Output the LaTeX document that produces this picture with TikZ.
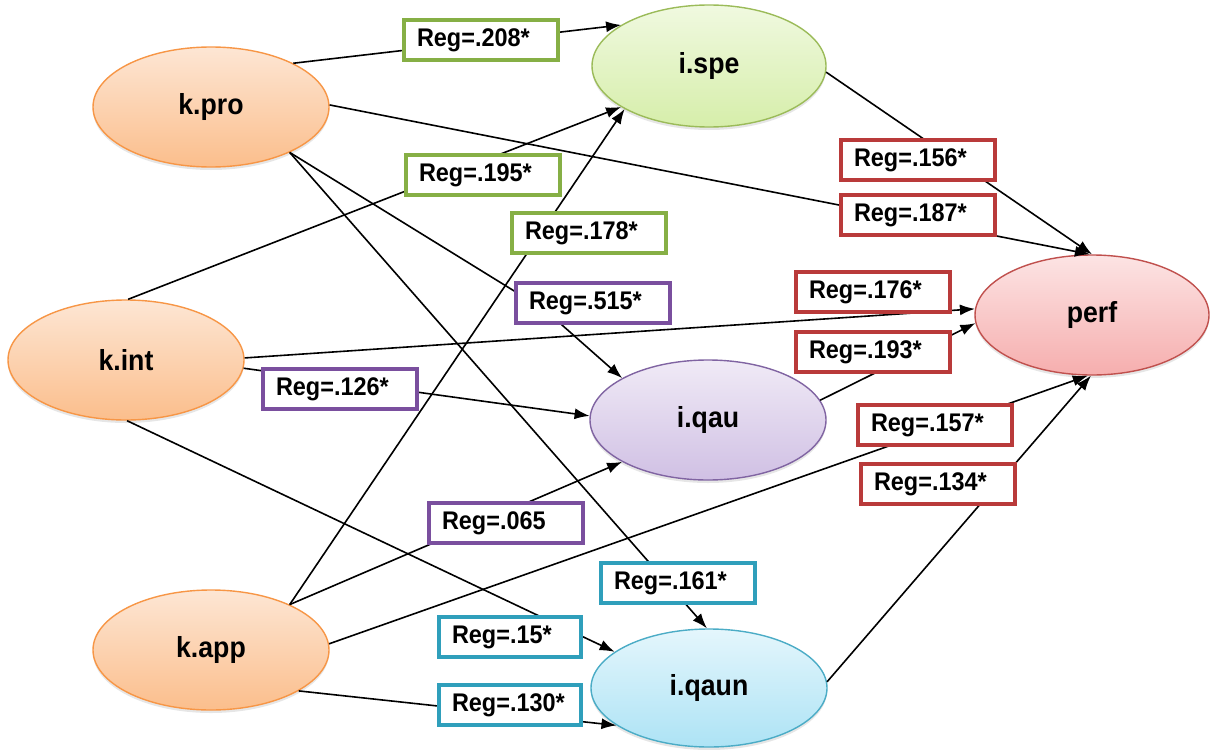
\documentclass[tikz,border=0pt]{standalone}
\usepackage{fontspec}
\setmainfont{Liberation Sans}[FakeStretch=0.92]
\usetikzlibrary{shapes.geometric,arrows.meta,calc,shadows}
\definecolor{orD}{HTML}{F79646}\definecolor{orT}{HTML}{FDE6D4}\definecolor{orB}{HTML}{FBBE8C}
\definecolor{grD}{HTML}{9BBB59}\definecolor{grT}{HTML}{F0F9E0}\definecolor{grB}{HTML}{D6EEAA}
\definecolor{rdD}{HTML}{C0504D}\definecolor{rdT}{HTML}{FCE4E4}\definecolor{rdB}{HTML}{F6AEAE}
\definecolor{puD}{HTML}{8064A2}\definecolor{puT}{HTML}{F0EAF6}\definecolor{puB}{HTML}{D0C0E4}
\definecolor{aqD}{HTML}{4BACC6}\definecolor{aqT}{HTML}{E4F6FC}\definecolor{aqB}{HTML}{ADE3F5}
\definecolor{bxG}{HTML}{86AF45}\definecolor{bxP}{HTML}{7A4F9E}\definecolor{bxA}{HTML}{2F9FBB}\definecolor{bxR}{HTML}{B93A3A}
\tikzset{
  ell/.style={ellipse, minimum width=236pt, minimum height=120pt, inner sep=0pt, line width=1.4pt,
    font=\fontsize{29}{33}\selectfont\bfseries,
    drop shadow={shadow xshift=0pt, shadow yshift=-3pt, opacity=0.2}},
  ellor/.style={ell, draw=orD, top color=orT, bottom color=orB},
  ellgr/.style={ell, draw=grD, top color=grT, bottom color=grB},
  ellrd/.style={ell, draw=rdD, top color=rdT, bottom color=rdB},
  ellpu/.style={ell, draw=puD, top color=puT, bottom color=puB},
  ellaq/.style={ell, draw=aqD, top color=aqT, bottom color=aqB},
  lbl/.style={draw, fill=white, line width=3.5pt, text width=128pt, align=left, inner xsep=13pt, inner ysep=0pt,
    minimum height=40pt, font=\fontsize{25.5}{29}\selectfont\bfseries},
  lbs/.style={lbl, text width=116pt},
  lg/.style={lbl, draw=bxG}, lp/.style={lbl, draw=bxP}, la/.style={lbl, draw=bxA}, lr/.style={lbl, draw=bxR},
  conn/.style={line width=1.6pt, -{Latex[length=15pt,width=11pt]}}
}
\begin{document}
\begin{tikzpicture}[x=1pt,y=-1pt]
\useasboundingbox (0,0) rectangle (1214,749);
% latent nodes
\node[ellor] (kpro) at (211,107) {k.pro};
\node[ellgr, minimum width=234pt, minimum height=122pt] (ispe) at (709,66) {i.spe};
\node[ellor] (kint) at (126,360) {k.int};
\node[ellrd, minimum width=234pt] (perf) at (1092,315) {perf};
\node[ellpu] (iqau) at (708,420) {i.qau};
\node[ellor] (kapp) at (211,650) {k.app};
\node[ellaq, minimum height=118pt] (iqaun) at (709,688) {i.qaun};
% label positions
\coordinate (p515) at (593,303);
% connectors
\draw[conn] (kpro.28) -- (ispe.155);
\draw[conn] (kint.88) -- (ispe.205);
\draw[conn] (kapp.30) -- (ispe.207);
\draw[conn] (kpro.-30) -- ($(p515)+(-48,7)$) -- (iqau.154);
\draw[conn] (kpro.-30) -- (iqaun.92);
\draw[conn] (kpro.1) -- (perf.92);
\draw[conn] (ispe.-3) -- (perf.90);
\draw[conn] (kint.1) -- (perf.177);
\draw[conn] (iqau.10) -- (perf.184);
\draw[conn] (kint.-4) -- (iqau.178);
\draw[conn] (kint.-89) -- (iqaun.159);
\draw[conn] (kapp.30) -- (iqau.206);
\draw[conn] (kapp.3) -- (perf.-94);
\draw[conn] (iqaun.3) -- (perf.-91);
\draw[conn] (kapp.-25) -- (iqaun.202);
% labels
\node[lg] (b208) at (481,40) {Reg=.208*};
\node[lg] (b195) at (483,175) {Reg=.195*};
\node[lg] (b178) at (589,233) {Reg=.178*};
\node[lp] (b515) at (p515) {Reg=.515*};
\node[lp] (b126) at (340,389) {Reg=.126*};
\node[lp] (b065) at (506,523) {Reg=.065};
\node[la] (b161) at (678,583) {Reg=.161*};
\node[la, lbs] (b15) at (510,637) {Reg=.15*};
\node[la, lbs] (b130) at (510,705) {Reg=.130*};
\node[lr] (b156) at (918,160) {Reg=.156*};
\node[lr] (b187) at (918,215) {Reg=.187*};
\node[lr] (b176) at (873,292) {Reg=.176*};
\node[lr] (b193) at (873,352) {Reg=.193*};
\node[lr] (b157) at (935,425) {Reg=.157*};
\node[lr] (b134) at (938,484) {Reg=.134*};
\end{tikzpicture}
\end{document}
